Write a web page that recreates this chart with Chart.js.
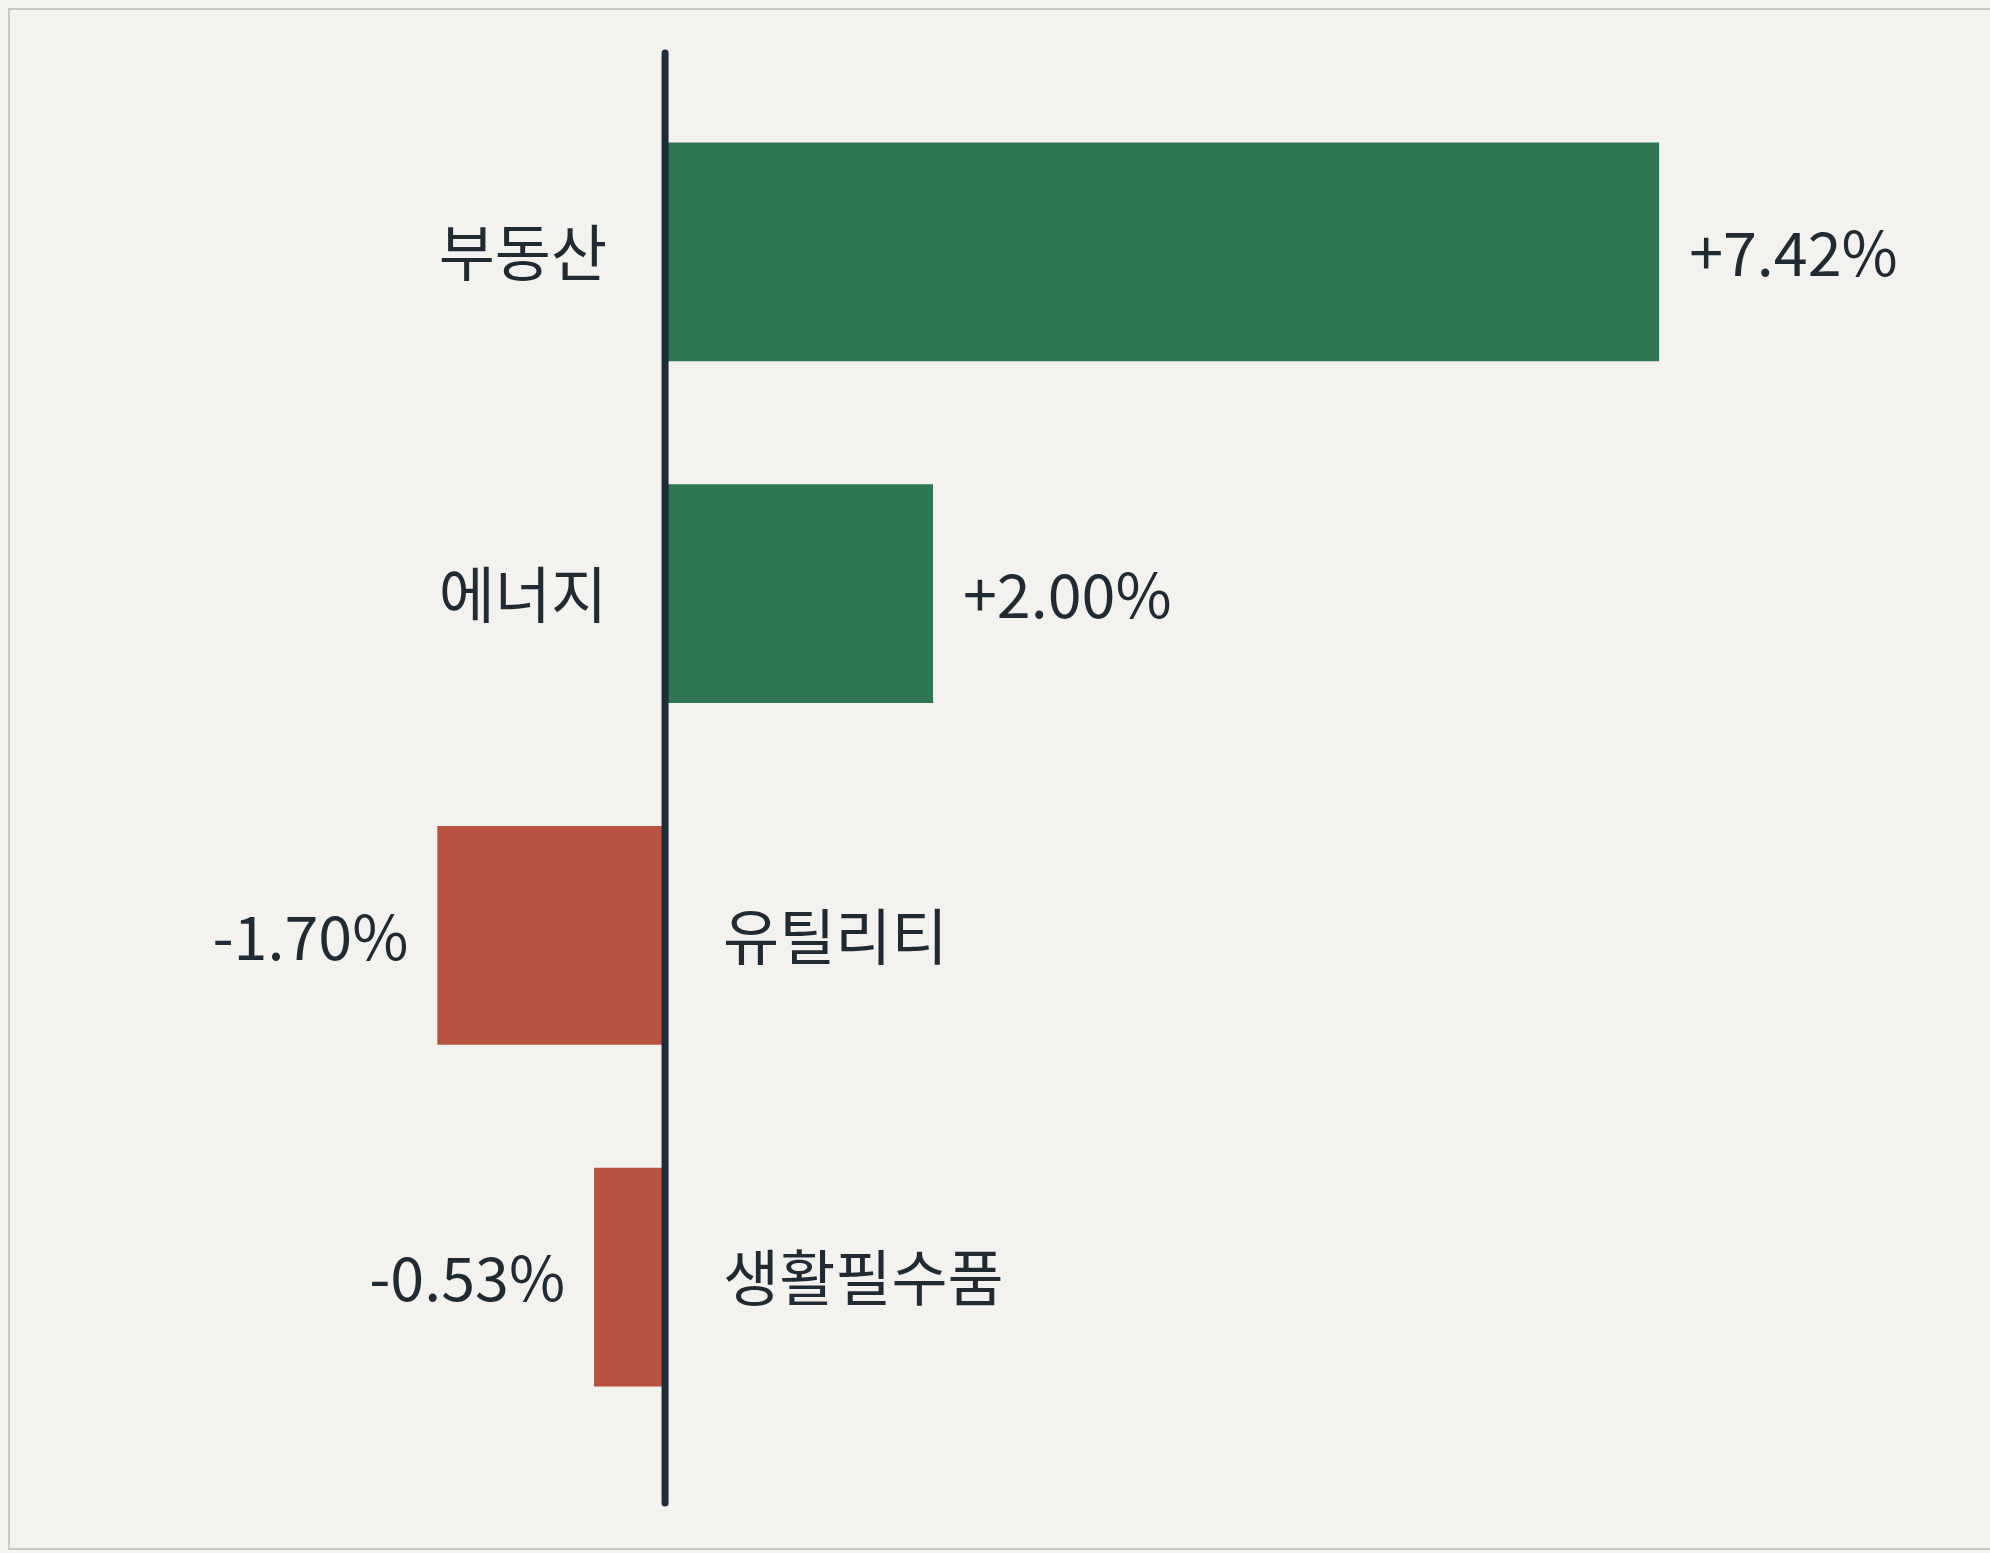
<!DOCTYPE html>
<html>
<head>
<meta charset="utf-8">
<script src="https://cdn.jsdelivr.net/npm/chart.js@4.4.1/dist/chart.umd.min.js"></script>
<style>
  html, body { margin: 0; padding: 0; background: #f3f2ee; }
  #wrap { position: relative; width: 1990px; height: 1553px; overflow: hidden; }
  #frame {
    position: absolute; left: 8px; top: 8px; width: 1990px; height: 1542px;
    border: 2px solid #c9c9c6; box-sizing: border-box; pointer-events: none;
  }
  canvas { position: absolute; left: 0; top: 0; }
</style>
</head>
<body>
<div id="wrap">
  <canvas id="chartCanvas" width="1990" height="1553"></canvas>
  <div id="frame"></div>
</div>
<script>
// 데이터
const sectors = ["부동산", "에너지", "유틸리티", "생활필수품"];
const changes = [7.42, 2.00, -1.70, -0.53];
const valueLabels = ["+7.42%", "+2.00%", "-1.70%", "-0.53%"];

const GREEN = '#2f7653';
const RED = '#b75140';
const INK = '#1f2a33';
const FONT = '"Noto Sans CJK KR", "Noto Sans", sans-serif';

// 막대 옆 라벨 + 중앙 축선
const labelPlugin = {
  id: 'labels',
  afterDatasetsDraw(chart) {
    const c = chart.ctx;
    const x0 = chart.scales.x.getPixelForValue(0);
    const meta = chart.getDatasetMeta(0);
    c.save();
    c.font = '61px ' + FONT;
    c.fillStyle = INK;
    c.textBaseline = 'middle';
    meta.data.forEach((bar, i) => {
      const y = bar.y + 1;
      if (changes[i] >= 0) {
        c.textAlign = 'right';
        c.fillText(sectors[i], x0 - 58, y);
        c.textAlign = 'left';
        c.fillText(valueLabels[i], bar.x + 30, y);
      } else {
        c.textAlign = 'left';
        c.fillText(sectors[i], x0 + 58, y);
        c.textAlign = 'right';
        c.fillText(valueLabels[i], bar.x - 29, y);
      }
    });
    // 축선
    const area = chart.chartArea;
    c.strokeStyle = '#1e2c37';
    c.lineWidth = 7;
    c.lineCap = 'round';
    c.beginPath();
    c.moveTo(x0, area.top - 28);
    c.lineTo(x0, area.bottom + 55);
    c.stroke();
    c.restore();
  }
};

const ctx = document.getElementById('chartCanvas').getContext('2d');
const chart = new Chart(ctx, {
  type: 'bar',
  data: {
    labels: sectors,
    datasets: [{
      data: changes,
      backgroundColor: changes.map(v => v >= 0 ? GREEN : RED),
      borderWidth: 0,
      categoryPercentage: 0.64,
      barPercentage: 1
    }]
  },
  options: {
    indexAxis: 'y',
    responsive: false,
    animation: false,
    layout: { padding: { left: 22, right: 12, top: 81, bottom: 105 } },
    scales: {
      x: { display: false, min: -4.8, max: 9.8 },
      y: { display: false }
    },
    plugins: {
      legend: { display: false },
      tooltip: { enabled: false }
    }
  },
  plugins: [labelPlugin]
});
</script>
</body>
</html>
